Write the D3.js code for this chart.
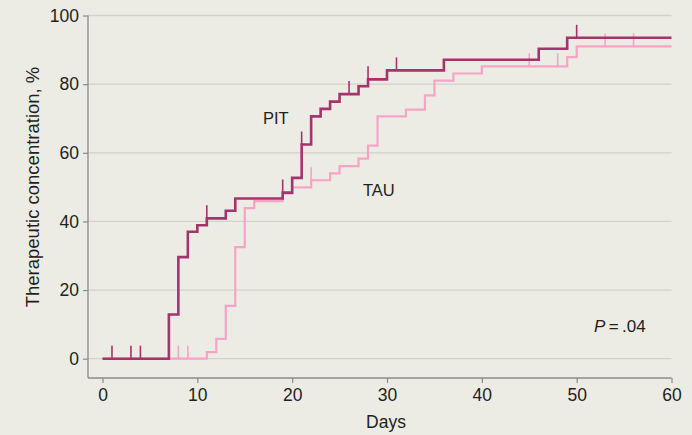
<!DOCTYPE html>
<html>
<head>
<meta charset="utf-8">
<script src="https://cdn.jsdelivr.net/npm/d3@7"></script>
<style>
  html, body { margin: 0; padding: 0; background: #ecebe4; }
  svg { display: block; }
  text { font-family: "Liberation Sans", Arial, sans-serif; fill: #231f20; }
</style>
</head>
<body>
<svg id="chart" width="692" height="435"></svg>
<script>
// Kaplan-Meier style curves: day of each step and cumulative % reaching therapeutic concentration
const pitDays   = [0, 7, 8, 9, 10, 11, 13, 14, 19, 20, 21, 22, 23, 24, 25, 27, 28, 30, 36, 46, 49, 60];
const pitValues = [0, 12.9, 29.6, 37, 38.9, 40.9, 43.1, 46.7, 48.4, 52.7, 62.4, 70.6, 72.8, 74.9, 77.1, 79.4, 81.4, 84, 87.1, 90.3, 93.5, 93.5];
const pitCensored = [1, 3, 4, 11, 19, 21, 26, 28, 31, 50];

const tauDays   = [0, 11, 12, 13, 14, 15, 16, 19, 20, 22, 24, 25, 27, 28, 29, 32, 34, 35, 37, 40, 49, 50, 60];
const tauValues = [0, 1.9, 5.8, 15.4, 32.5, 43.9, 45.9, 48.1, 49.9, 52, 54, 56.1, 58.3, 62.1, 70.6, 72.6, 76.7, 81, 83.1, 85.2, 87.9, 91, 91];
const tauCensored = [8, 9, 22, 45, 48, 53, 56];

const xTicks = [0, 10, 20, 30, 40, 50, 60];
const yTicks = [0, 20, 40, 60, 80, 100];

const xLabel = "Days";
const yLabel = "Therapeutic concentration, %";
const groupNames = ["PIT", "TAU"];
const pValue = ".04";

const svg = d3.select("#chart");

const x = d3.scaleLinear().domain([0, 60]).range([102.5, 671.5]);
const y = d3.scaleLinear().domain([0, 100]).range([358.7, 15.5]);

const axisLeftX = 88;
const axisBottomY = 378;

// horizontal gridlines
svg.append("g")
  .selectAll("line")
  .data(yTicks)
  .join("line")
  .attr("x1", axisLeftX)
  .attr("x2", x(60))
  .attr("y1", d => y(d))
  .attr("y2", d => y(d))
  .attr("stroke", "#d3d2ca")
  .attr("stroke-width", 1.3);

// y axis
const yAxis = svg.append("g")
  .attr("transform", `translate(${axisLeftX},0)`)
  .call(d3.axisLeft(y).tickValues(yTicks).tickSize(5).tickPadding(4));
yAxis.select(".domain").attr("d", `M0,${y(100)}V${axisBottomY}`);

// x axis
const xAxis = svg.append("g")
  .attr("transform", `translate(0,${axisBottomY})`)
  .call(d3.axisBottom(x).tickValues(xTicks).tickSize(5).tickPadding(6));
xAxis.select(".domain").attr("d", `M${axisLeftX},0H${x(60)}`);

svg.selectAll(".domain").attr("stroke", "#8c8c88").attr("stroke-width", 1.3);
svg.selectAll(".tick line").attr("stroke", "#8c8c88").attr("stroke-width", 1.2);
svg.selectAll(".tick text")
  .attr("font-size", 17.5)
  .attr("font-family", "\"Liberation Sans\", Arial, sans-serif")
  .attr("fill", "#231f20");

// axis titles
svg.append("text")
  .attr("transform", `translate(39,187) rotate(-90)`)
  .attr("text-anchor", "middle")
  .attr("font-size", 18.5)
  .text(yLabel);

svg.append("text")
  .attr("x", x(30) - 1)
  .attr("y", 428)
  .attr("text-anchor", "middle")
  .attr("font-size", 17.5)
  .text(xLabel);

// step curves with censoring marks
const line = d3.line()
  .x(d => x(d[0]))
  .y(d => y(d[1]))
  .curve(d3.curveStepAfter);

function valueAt(days, values, t) {
  let v = values[0];
  for (let i = 0; i < days.length; i++) if (days[i] <= t) v = values[i];
  return v;
}

function drawGroup(days, values, censored, color, width) {
  const pts = days.map((d, i) => [d, values[i]]);
  svg.append("path")
    .datum(pts)
    .attr("d", line)
    .attr("fill", "none")
    .attr("stroke", color)
    .attr("stroke-width", width)
    .attr("stroke-linejoin", "miter");
  svg.append("g")
    .selectAll("line")
    .data(censored)
    .join("line")
    .attr("x1", d => x(d))
    .attr("x2", d => x(d))
    .attr("y1", d => y(valueAt(days, values, d)))
    .attr("y2", d => y(valueAt(days, values, d)) - 13)
    .attr("stroke", color)
    .attr("stroke-width", 1.6);
}

drawGroup(tauDays, tauValues, tauCensored, "#f7a3c8", 2.2);
drawGroup(pitDays, pitValues, pitCensored, "#a5336d", 2.6);

// group labels
svg.append("text")
  .attr("x", 263).attr("y", 123.5)
  .attr("font-size", 16.5)
  .text(groupNames[0]);

svg.append("text")
  .attr("x", 363).attr("y", 196)
  .attr("font-size", 16.5)
  .text(groupNames[1]);

// P value
const pText = svg.append("text")
  .attr("x", 594).attr("y", 331.5)
  .attr("font-size", 17);
pText.append("tspan").attr("font-style", "italic").text("P");
pText.append("tspan").text("\u2009=\u2009" + pValue);
</script>
</body>
</html>
